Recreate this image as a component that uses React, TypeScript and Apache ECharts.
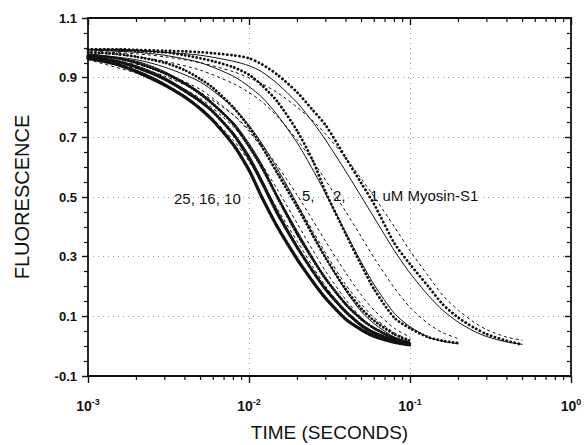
import React, { useEffect, useRef } from "react";
import * as echarts from "echarts";

// time grids (seconds)
const DATA_T = [0.001, 0.0015, 0.002, 0.003, 0.004, 0.005, 0.006, 0.008, 0.01, 0.012, 0.015, 0.02, 0.025, 0.03, 0.04, 0.05, 0.06, 0.08, 0.1, 0.13, 0.16, 0.2, 0.25, 0.3, 0.4, 0.5];
const FIT_T = [0.001, 0.002, 0.003, 0.005, 0.008, 0.01, 0.012, 0.015, 0.02, 0.025, 0.03, 0.04, 0.05, 0.06, 0.08, 0.1, 0.13, 0.16, 0.2, 0.25, 0.3, 0.4, 0.5];

// measured fluorescence (dots)
const DATA_25 = [0.965, 0.945, 0.92, 0.875, 0.835, 0.795, 0.755, 0.675, 0.59, 0.5, 0.4, 0.29, 0.215, 0.16, 0.09, 0.055, 0.033, 0.013, 0.004];
const DATA_16 = [0.97, 0.955, 0.935, 0.895, 0.855, 0.82, 0.785, 0.71, 0.63, 0.55, 0.445, 0.33, 0.25, 0.19, 0.115, 0.07, 0.045, 0.02, 0.008];
const DATA_10 = [0.975, 0.965, 0.95, 0.915, 0.88, 0.845, 0.81, 0.745, 0.67, 0.6, 0.5, 0.375, 0.29, 0.225, 0.14, 0.09, 0.06, 0.027, 0.012];
const DATA_5 = [0.985, 0.98, 0.97, 0.95, 0.925, 0.895, 0.865, 0.8, 0.735, 0.67, 0.58, 0.465, 0.37, 0.295, 0.19, 0.125, 0.085, 0.04, 0.018];
const DATA_2 = [0.995, 0.993, 0.99, 0.985, 0.975, 0.965, 0.955, 0.935, 0.91, 0.875, 0.82, 0.72, 0.62, 0.515, 0.375, 0.27, 0.19, 0.095, 0.06, 0.03, 0.018, 0.01];
const DATA_1 = [0.995, 0.995, 0.993, 0.99, 0.988, 0.985, 0.982, 0.975, 0.965, 0.945, 0.91, 0.85, 0.79, 0.74, 0.63, 0.545, 0.475, 0.345, 0.275, 0.2, 0.14, 0.095, 0.062, 0.04, 0.018, 0.005];

// fits: solid
const SOLID_25 = [0.97, 0.925, 0.88, 0.795, 0.675, 0.595, 0.5, 0.4, 0.29, 0.21, 0.155, 0.09, 0.05, 0.03, 0.012, 0.004];
const SOLID_16 = [0.975, 0.94, 0.9, 0.825, 0.715, 0.64, 0.56, 0.455, 0.335, 0.25, 0.185, 0.11, 0.065, 0.04, 0.017, 0.007];
const SOLID_10 = [0.98, 0.955, 0.92, 0.85, 0.75, 0.68, 0.61, 0.505, 0.385, 0.295, 0.225, 0.14, 0.09, 0.058, 0.025, 0.011];
const SOLID_5 = [0.98, 0.96, 0.935, 0.885, 0.8, 0.74, 0.68, 0.595, 0.475, 0.375, 0.295, 0.185, 0.115, 0.075, 0.03, 0.013];
const SOLID_2 = [0.993, 0.985, 0.975, 0.95, 0.905, 0.87, 0.835, 0.775, 0.68, 0.59, 0.51, 0.38, 0.28, 0.205, 0.11, 0.065, 0.03, 0.016, 0.008];
const SOLID_1 = [0.995, 0.99, 0.985, 0.975, 0.955, 0.94, 0.92, 0.88, 0.815, 0.75, 0.69, 0.585, 0.5, 0.43, 0.32, 0.245, 0.17, 0.12, 0.08, 0.05, 0.032, 0.014, 0.006];

// fits: dashed
const DASH_25 = [0.96, 0.915, 0.875, 0.8, 0.69, 0.62, 0.55, 0.46, 0.35, 0.265, 0.2, 0.115, 0.065, 0.04, 0.015, 0.006];
const DASH_16 = [0.965, 0.93, 0.895, 0.83, 0.735, 0.67, 0.61, 0.525, 0.41, 0.32, 0.25, 0.155, 0.095, 0.06, 0.025, 0.01];
const DASH_10 = [0.97, 0.945, 0.915, 0.86, 0.775, 0.72, 0.665, 0.585, 0.475, 0.385, 0.31, 0.205, 0.14, 0.095, 0.045, 0.02];
const DASH_5 = [0.965, 0.935, 0.905, 0.85, 0.775, 0.725, 0.675, 0.605, 0.505, 0.42, 0.35, 0.245, 0.17, 0.12, 0.06, 0.03];
const DASH_2 = [0.985, 0.97, 0.955, 0.925, 0.88, 0.85, 0.82, 0.77, 0.69, 0.62, 0.555, 0.45, 0.365, 0.295, 0.195, 0.13, 0.075, 0.045, 0.025];
const DASH_1 = [0.99, 0.98, 0.97, 0.95, 0.92, 0.9, 0.88, 0.85, 0.8, 0.755, 0.71, 0.63, 0.56, 0.5, 0.4, 0.32, 0.235, 0.17, 0.12, 0.08, 0.055, 0.03, 0.02];

// axis ticks
const X_MINOR = [0.002, 0.003, 0.004, 0.005, 0.006, 0.007, 0.008, 0.009, 0.02, 0.03, 0.04, 0.05, 0.06, 0.07, 0.08, 0.09, 0.2, 0.3, 0.4, 0.5, 0.6, 0.7, 0.8, 0.9];

const INK = "#111";
const FONT = "'Liberation Sans', Arial, sans-serif";

const pairs = (ts: number[], vs: number[]) => vs.map((v, i) => [ts[i], v]);

export default function App() {
  const ref = useRef<HTMLDivElement>(null);
  useEffect(() => {
    document.body.style.margin = "0";
    if (!ref.current) return;
    const chart = echarts.init(ref.current, null, { renderer: "svg" });

    const dots = (name: string, vs: number[], w: number, gap: number) => ({
      name,
      type: "line",
      data: pairs(DATA_T, vs),
      showSymbol: false,
      smooth: 0.25,
      lineStyle: { color: INK, width: w, type: [0.1, gap], cap: "round" },
      z: 3,
    });
    const fit = (name: string, vs: number[], dashed: boolean) => ({
      name,
      type: "line",
      data: pairs(FIT_T, vs),
      showSymbol: false,
      smooth: 0.25,
      lineStyle: { color: INK, width: 1, type: dashed ? [3, 3] : "solid" },
      z: 2,
    });

    const supLabel = (v: number) => {
      const e = Math.round(Math.log10(v));
      return `{b|10}{s|${e}}`;
    };
    const rich = {
      b: { fontSize: 14, fontFamily: FONT, color: INK, fontWeight: "bold" },
      s: { fontSize: 9, fontFamily: FONT, color: INK, fontWeight: "bold", padding: [0, 0, 9, 0] },
    };
    const axisLineStyle = { color: INK, width: 1.8 };
    const noteStyle = { fontSize: 15, fontFamily: FONT, fill: INK, verticalAlign: "middle" };

    chart.setOption({
      animation: false,
      grid: { left: 88, right: 13, top: 18, bottom: 69, containLabel: false, outerBoundsMode: "none" },
      xAxis: [
        {
          type: "log",
          logBase: 10,
          min: 0.001,
          max: 1,
          name: "TIME (SECONDS)",
          nameLocation: "middle",
          nameGap: 47,
          nameTextStyle: { fontSize: 19, fontFamily: FONT, color: INK },
          axisLine: { show: true, onZero: false, lineStyle: axisLineStyle },
          axisTick: { show: true, inside: false, length: 7, lineStyle: { color: INK, width: 1.4 } },
          axisLabel: { formatter: supLabel, rich, margin: 21 },
          splitLine: { show: true, lineStyle: { color: "#999", type: [1, 4], width: 1 } },
        },
        {
          type: "log",
          logBase: 10,
          min: 0.001,
          max: 1,
          position: "top",
          axisLine: { show: true, onZero: false, lineStyle: axisLineStyle },
          axisTick: { show: true, inside: true, length: 7, lineStyle: { color: INK, width: 1.4 } },
          axisLabel: { show: false },
          splitLine: { show: false },
        },
      ],
      yAxis: [
        {
          type: "value",
          min: -0.1,
          max: 1.1,
          interval: 0.2,
          name: "FLUORESCENCE",
          nameLocation: "middle",
          nameGap: 56,
          nameTextStyle: { fontSize: 20, fontFamily: FONT, color: INK },
          axisLine: { show: true, onZero: false, lineStyle: axisLineStyle },
          axisTick: { show: true, inside: false, length: 6, lineStyle: { color: INK, width: 1.4 } },
          minorTick: { show: true, splitNumber: 4, length: 4, lineStyle: { color: INK, width: 1.2 } },
          axisLabel: {
            formatter: (v: number) => v.toFixed(1),
            fontSize: 13,
            fontFamily: FONT,
            fontWeight: "bold",
            color: INK,
            margin: 11,
          },
          splitLine: { show: true, lineStyle: { color: "#999", type: [1, 4], width: 1 } },
        },
        {
          type: "value",
          min: -0.1,
          max: 1.1,
          interval: 0.2,
          position: "right",
          axisLine: { show: true, onZero: false, lineStyle: axisLineStyle },
          axisTick: { show: true, inside: true, length: 6, lineStyle: { color: INK, width: 1.4 } },
          minorTick: { show: true, splitNumber: 4, length: 4, lineStyle: { color: INK, width: 1.2 } },
          axisLabel: { show: false },
          splitLine: { show: false },
        },
      ],
      series: [
        {
          name: "minor ticks",
          type: "custom",
          xAxisIndex: 0,
          yAxisIndex: 0,
          clip: false,
          silent: true,
          data: X_MINOR.map((v) => [v, 0]),
          renderItem: (_p: any, api: any) => {
            const x = api.value(0);
            const b = api.coord([x, -0.1]);
            const t = api.coord([x, 1.1]);
            const st = { stroke: INK, lineWidth: 1.2 };
            return {
              type: "group",
              children: [
                { type: "line", shape: { x1: b[0], y1: b[1], x2: b[0], y2: b[1] + 4 }, style: st },
                { type: "line", shape: { x1: t[0], y1: t[1], x2: t[0], y2: t[1] + 4 }, style: st },
              ],
            };
          },
        },
        fit("25 uM fit", SOLID_25, false),
        fit("16 uM fit", SOLID_16, false),
        fit("10 uM fit", SOLID_10, false),
        fit("5 uM fit", SOLID_5, false),
        fit("2 uM fit", SOLID_2, false),
        fit("1 uM fit", SOLID_1, false),
        fit("25 uM alt fit", DASH_25, true),
        fit("16 uM alt fit", DASH_16, true),
        fit("10 uM alt fit", DASH_10, true),
        fit("5 uM alt fit", DASH_5, true),
        fit("2 uM alt fit", DASH_2, true),
        fit("1 uM alt fit", DASH_1, true),
        dots("25 uM", DATA_25, 3.4, 2),
        dots("16 uM", DATA_16, 3.2, 2.4),
        dots("10 uM", DATA_10, 3.0, 2.8),
        dots("5 uM", DATA_5, 2.8, 3.5),
        dots("2 uM", DATA_2, 2.8, 3.8),
        dots("1 uM", DATA_1, 2.8, 4),
      ],
      graphic: [
        { type: "text", x: 174, y: 198, style: { ...noteStyle, text: "25, 16, 10" } },
        { type: "text", x: 302, y: 195, style: { ...noteStyle, text: "5," } },
        { type: "text", x: 333, y: 195, style: { ...noteStyle, text: "2," } },
        { type: "text", x: 370, y: 195, style: { ...noteStyle, text: "1 uM Myosin-S1" } },
      ],
    });
    return () => chart.dispose();
  }, []);
  return <div ref={ref} style={{ width: 584, height: 445, position: "fixed", left: 0, top: 0, background: "#fff" }} />;
}
